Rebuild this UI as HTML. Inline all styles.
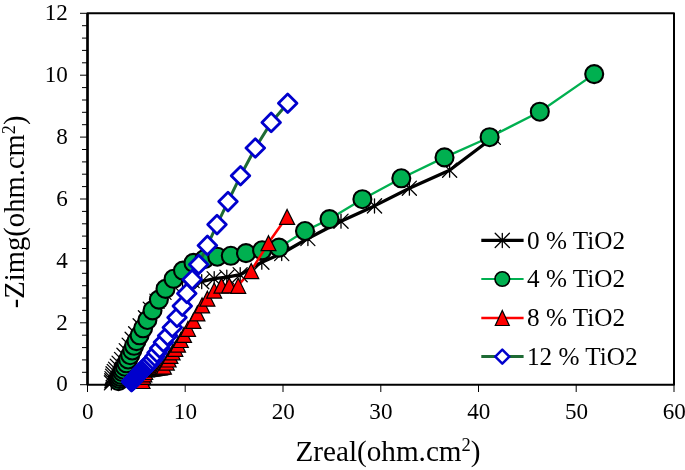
<!DOCTYPE html><html><head><meta charset="utf-8"><title>Nyquist plot</title>
<style>html,body{margin:0;padding:0;background:#fff}svg{display:block;will-change:transform}text{font-family:"Liberation Serif","DejaVu Serif",serif;fill:#000}</style></head><body>
<svg width="685" height="470" viewBox="0 0 685 470">
<rect width="685" height="470" fill="#fff"/>
<rect x="87.5" y="13.3" width="586.5" height="371.4" fill="none" stroke="#000" stroke-width="2" stroke-linejoin="round"/>
<path d="M87.5 13.3V384.7" stroke="#000" stroke-width="2.4" fill="none"/>
<path d="M80 384.7H87.5M82 372.3H87.5M82 359.9H87.5M82 347.6H87.5M82 335.2H87.5M80 322.8H87.5M82 310.4H87.5M82 298H87.5M82 285.7H87.5M82 273.3H87.5M80 260.9H87.5M82 248.5H87.5M82 236.1H87.5M82 223.8H87.5M82 211.4H87.5M80 199H87.5M82 186.6H87.5M82 174.2H87.5M82 161.9H87.5M82 149.5H87.5M80 137.1H87.5M82 124.7H87.5M82 112.3H87.5M82 100H87.5M82 87.6H87.5M80 75.2H87.5M82 62.8H87.5M82 50.4H87.5M82 38.1H87.5M82 25.7H87.5M80 13.3H87.5M87.5 384.7V392M185.2 384.7V392M283 384.7V392M380.8 384.7V392M478.5 384.7V392M576.2 384.7V392M674 384.7V392" stroke="#000" stroke-width="1" fill="none"/>
<text transform="translate(67.9,391.4) scale(0.963,1)" font-size="24" text-anchor="end">0</text>
<text transform="translate(67.9,329.5) scale(0.963,1)" font-size="24" text-anchor="end">2</text>
<text transform="translate(67.9,267.6) scale(0.963,1)" font-size="24" text-anchor="end">4</text>
<text transform="translate(67.9,205.7) scale(0.963,1)" font-size="24" text-anchor="end">6</text>
<text transform="translate(67.9,143.8) scale(0.963,1)" font-size="24" text-anchor="end">8</text>
<text transform="translate(67.9,81.9) scale(0.963,1)" font-size="24" text-anchor="end">10</text>
<text transform="translate(67.9,20) scale(0.963,1)" font-size="24" text-anchor="end">12</text>
<text transform="translate(87.7,418.6) scale(0.963,1)" font-size="24" text-anchor="middle">0</text>
<text transform="translate(185.4,418.6) scale(0.963,1)" font-size="24" text-anchor="middle">10</text>
<text transform="translate(283.2,418.6) scale(0.963,1)" font-size="24" text-anchor="middle">20</text>
<text transform="translate(380.9,418.6) scale(0.963,1)" font-size="24" text-anchor="middle">30</text>
<text transform="translate(478.7,418.6) scale(0.963,1)" font-size="24" text-anchor="middle">40</text>
<text transform="translate(576.5,418.6) scale(0.963,1)" font-size="24" text-anchor="middle">50</text>
<text transform="translate(674.2,418.6) scale(0.963,1)" font-size="24" text-anchor="middle">60</text>
<text x="388" y="460.5" font-size="29.2" text-anchor="middle">Zreal(ohm.cm<tspan font-size="18.5" dy="-9.5">2</tspan><tspan dy="9.5">)</tspan></text>
<text transform="translate(24.2,211.9) rotate(-90) scale(0.981,1)" font-size="29.2" text-anchor="middle">-Zimg(ohm.cm<tspan font-size="18.5" dy="-9.5">2</tspan><tspan dy="9.5">)</tspan></text>
<polyline points="111.4,382.9 111.7,380.9 111.9,378.6 112.5,376.2 113.1,373.8 114.3,371.5 115.5,369.1 117.3,366.1 119.1,363.1 121.5,359.5 123.9,355.4 126.2,350.6 129.2,345.2 132.2,339.3 135.7,333.9 140.2,325.8 145.5,317.8 150.3,309.1 157,301.1 164,292.3 172.8,285 182.5,280.5 192.2,280.5 201.7,281.6 214.2,278.6 226.8,277.2 240.2,274.7 261.8,262.2 281.7,253.5 307.9,238.5 341,221.2 374.5,205.9 409.4,188.2 449.6,170.2 493.3,137.3" fill="none" stroke="#000" stroke-width="3.3" stroke-linejoin="round"/>
<path d="M111.4 375.8V389.9M104.4 375.8L118.5 389.9M118.5 375.8L104.4 389.9M111.7 373.8V387.9M104.7 373.8L118.8 387.9M118.8 373.8L104.7 387.9M111.9 371.6V385.7M104.9 371.6L119 385.7M119 371.6L104.9 385.7M112.5 369.1V383.2M105.5 369.1L119.5 383.2M119.5 369.1L105.5 383.2M113.1 366.8V380.9M106 366.8L120.1 380.9M120.1 366.8L106 380.9M114.3 364.4V378.6M107.2 364.4L121.3 378.6M121.3 364.4L107.2 378.6M115.5 362.1V376.2M108.5 362.1L122.5 376.2M122.5 362.1L108.5 376.2M117.3 359.1V373.2M110.2 359.1L124.3 373.2M124.3 359.1L110.2 373.2M119.1 356.1V370.2M112 356.1L126.1 370.2M126.1 356.1L112 370.2M121.5 352.4V366.6M114.5 352.4L128.6 366.6M128.6 352.4L114.5 366.6M123.9 348.3V362.4M116.9 348.3L131 362.4M131 348.3L116.9 362.4M126.2 343.6V357.7M119.2 343.6L133.2 357.7M133.2 343.6L119.2 357.7M129.2 338.1V352.2M122.1 338.1L136.2 352.2M136.2 338.1L122.1 352.2M132.2 332.2V346.4M125.1 332.2L139.2 346.4M139.2 332.2L125.1 346.4M135.7 326.8V340.9M128.6 326.8L142.8 340.9M142.8 326.8L128.6 340.9M140.2 318.8V332.9M133.1 318.8L147.2 332.9M147.2 318.8L133.1 332.9M145.5 310.8V324.9M138.4 310.8L152.6 324.9M152.6 310.8L138.4 324.9M150.3 302.1V316.2M143.2 302.1L157.4 316.2M157.4 302.1L143.2 316.2M157 294.1V308.2M149.9 294.1L164.1 308.2M164.1 294.1L149.9 308.2M164 285.2V299.4M156.9 285.2L171.1 299.4M171.1 285.2L156.9 299.4M172.8 277.9V292.1M165.8 277.9L179.9 292.1M179.9 277.9L165.8 292.1M182.5 273.4V287.6M175.4 273.4L189.6 287.6M189.6 273.4L175.4 287.6M192.2 273.4V287.6M185.1 273.4L199.2 287.6M199.2 273.4L185.1 287.6M201.7 274.6V288.7M194.6 274.6L208.8 288.7M208.8 274.6L194.6 288.7M214.2 271.6V285.7M207.1 271.6L221.2 285.7M221.2 271.6L207.1 285.7M226.8 270.1V284.2M219.8 270.1L233.9 284.2M233.9 270.1L219.8 284.2M240.2 267.6V281.8M233.1 267.6L247.2 281.8M247.2 267.6L233.1 281.8M261.8 255.1V269.2M254.8 255.1L268.9 269.2M268.9 255.1L254.8 269.2M281.7 246.4V260.6M274.6 246.4L288.8 260.6M288.8 246.4L274.6 260.6M307.9 231.4V245.6M300.8 231.4L314.9 245.6M314.9 231.4L300.8 245.6M341 214.1V228.2M333.9 214.1L348.1 228.2M348.1 214.1L333.9 228.2M374.5 198.8V213M367.4 198.8L381.6 213M381.6 198.8L367.4 213M409.4 181.1V195.2M402.3 181.1L416.4 195.2M416.4 181.1L402.3 195.2M449.6 163.1V177.2M442.6 163.1L456.7 177.2M456.7 163.1L442.6 177.2M493.3 130.2V144.4M486.2 130.2L500.4 144.4M500.4 130.2L486.2 144.4" stroke="#000" stroke-width="1.3" stroke-linecap="round" fill="none"/>
<polyline points="118.5,381.1 119.2,379 120.1,376.9 121.1,374.8 122.3,372.2 123.4,369.7 124.9,366.7 126.5,363.3 128.1,359.5 130.2,355.2 132.3,350.5 134.1,345.8 136.5,341.1 139.6,335.3 143.1,328.3 147.4,320 152.5,310.4 158.9,299.6 165.5,288.9 173.6,278.8 183,270.6 193.5,262.9 204.5,259.1 217.3,256.7 230.8,255.8 246,253.1 262.1,250.3 279,247.6 305,231 329.5,219.1 362.4,199.2 401.3,178.3 444.5,157.4 489.6,137.2 539.8,111.7 594.2,74.1" fill="none" stroke="#00b050" stroke-width="2.3" stroke-linejoin="round"/>
<g fill="#00b050" stroke="#000" stroke-width="2.1"><circle cx="118.5" cy="381.1" r="9"/><circle cx="119.2" cy="379" r="9"/><circle cx="120.1" cy="376.9" r="9"/><circle cx="121.1" cy="374.8" r="9"/><circle cx="122.3" cy="372.2" r="9"/><circle cx="123.4" cy="369.7" r="9"/><circle cx="124.9" cy="366.7" r="9"/><circle cx="126.5" cy="363.3" r="9"/><circle cx="128.1" cy="359.5" r="9"/><circle cx="130.2" cy="355.2" r="9"/><circle cx="132.3" cy="350.5" r="9"/><circle cx="134.1" cy="345.8" r="9"/><circle cx="136.5" cy="341.1" r="9"/><circle cx="139.6" cy="335.3" r="9"/><circle cx="143.1" cy="328.3" r="9"/><circle cx="147.4" cy="320" r="9"/><circle cx="152.5" cy="310.4" r="9"/><circle cx="158.9" cy="299.6" r="9"/><circle cx="165.5" cy="288.9" r="9"/><circle cx="173.6" cy="278.8" r="9"/><circle cx="183" cy="270.6" r="9"/><circle cx="193.5" cy="262.9" r="9"/><circle cx="204.5" cy="259.1" r="9"/><circle cx="217.3" cy="256.7" r="9"/><circle cx="230.8" cy="255.8" r="9"/><circle cx="246" cy="253.1" r="9"/><circle cx="262.1" cy="250.3" r="9"/><circle cx="279" cy="247.6" r="9"/><circle cx="305" cy="231" r="9"/><circle cx="329.5" cy="219.1" r="9"/><circle cx="362.4" cy="199.2" r="9"/><circle cx="401.3" cy="178.3" r="9"/><circle cx="444.5" cy="157.4" r="9"/><circle cx="489.6" cy="137.2" r="9"/><circle cx="539.8" cy="111.7" r="9"/><circle cx="594.2" cy="74.1" r="9"/></g>
<polyline points="142.5,380.6 143.4,376.5 144.3,373.9 145.2,371.6 146.6,368.9 147.9,368.7 149.2,368.5 150.5,368.3 151.8,368.1 153.1,367.9 154.4,367.7 155.7,367.5 157,367.3 158.3,367.1 159.6,366.9 160.9,366.7 162.2,366.5 163.9,366.3 166.8,362.2 168.6,359.1 170.4,355.5 172.6,351.9 175.3,348.4 178,344.3 180.8,339.6 184,334.5 188,328.4 193.4,320.4 197.4,313 202.1,305 207.4,298.3 214.2,290.2 221.5,285.3 229.2,285 238.2,285.4 251.2,270.7 268.5,242.8 287.1,216.5" fill="none" stroke="#f00" stroke-width="2.5" stroke-linejoin="round"/>
<g fill="#f00" stroke="#000" stroke-width="1.2" stroke-linejoin="miter"><path d="M142.5 373.5L150 388.5H135Z"/><path d="M143.4 369.4L150.9 384.4H135.9Z"/><path d="M144.3 366.8L151.8 381.8H136.8Z"/><path d="M145.2 364.5L152.7 379.5H137.7Z"/><path d="M146.6 361.8L154.1 376.8H139.1Z"/><path d="M147.9 361.6L155.4 376.6H140.4Z"/><path d="M149.2 361.4L156.7 376.4H141.7Z"/><path d="M150.5 361.2L158 376.2H143Z"/><path d="M151.8 361L159.3 376H144.3Z"/><path d="M153.1 360.8L160.6 375.8H145.6Z"/><path d="M154.4 360.6L161.9 375.6H146.9Z"/><path d="M155.7 360.4L163.2 375.4H148.2Z"/><path d="M157 360.2L164.5 375.2H149.5Z"/><path d="M158.3 360L165.8 375H150.8Z"/><path d="M159.6 359.8L167.1 374.8H152.1Z"/><path d="M160.9 359.6L168.4 374.6H153.4Z"/><path d="M162.2 359.4L169.7 374.4H154.7Z"/><path d="M163.9 359.2L171.4 374.2H156.4Z"/><path d="M166.8 355.1L174.3 370.1H159.3Z"/><path d="M168.6 352L176.1 367H161.1Z"/><path d="M170.4 348.4L177.9 363.4H162.9Z"/><path d="M172.6 344.8L180.1 359.8H165.1Z"/><path d="M175.3 341.3L182.8 356.3H167.8Z"/><path d="M178 337.2L185.5 352.2H170.5Z"/><path d="M180.8 332.5L188.3 347.5H173.3Z"/><path d="M184 327.4L191.5 342.4H176.5Z"/><path d="M188 321.3L195.5 336.3H180.5Z"/><path d="M193.4 313.3L200.9 328.3H185.9Z"/><path d="M197.4 305.9L204.9 320.9H189.9Z"/><path d="M202.1 297.9L209.6 312.9H194.6Z"/><path d="M207.4 291.2L214.9 306.2H199.9Z"/><path d="M214.2 283.1L221.7 298.1H206.7Z"/><path d="M221.5 278.2L229 293.2H214Z"/><path d="M229.2 277.9L236.7 292.9H221.7Z"/><path d="M238.2 278.3L245.7 293.3H230.7Z"/><path d="M251.2 263.6L258.7 278.6H243.7Z"/><path d="M268.5 235.7L276 250.7H261Z"/><path d="M287.1 209.4L294.6 224.4H279.6Z"/></g>
<polyline points="131.5,381.7 132.4,380.8 133.3,379.8 134.2,378.9 135.1,378 136,377 136.9,376.1 137.8,375.1 138.7,374.2 139.6,373.3 140.5,372.3 141.4,371.4 142.3,370.5 143.2,369.5 144.1,368.6 145,367.7 145.9,366.7 146.8,365.8 147.9,364.6 149.3,363.3 150.9,361.6 152.9,359.5 154.8,356.5 157,352.8 159.7,348.3 163.4,342.2 167.6,335.8 172.3,327.5 177,317.5 182.3,306.1 186.8,293.4 192.2,279.6 198.7,264.5 207.4,245.4 217,224.6 228,201.6 240.5,175.8 255.3,148 271.2,122.4 287.7,103.3" fill="none" stroke="#1e6b34" stroke-width="3" stroke-linejoin="round"/>
<g fill="#fff" stroke="#0000cd" stroke-width="2.8" stroke-linejoin="round"><path d="M131.5 372.4L140.8 381.7L131.5 391L122.2 381.7Z"/><path d="M132.4 371.5L141.7 380.8L132.4 390.1L123.1 380.8Z"/><path d="M133.3 370.5L142.6 379.8L133.3 389.1L124 379.8Z"/><path d="M134.2 369.6L143.5 378.9L134.2 388.2L124.9 378.9Z"/><path d="M135.1 368.7L144.4 378L135.1 387.3L125.8 378Z"/><path d="M136 367.7L145.3 377L136 386.3L126.7 377Z"/><path d="M136.9 366.8L146.2 376.1L136.9 385.4L127.6 376.1Z"/><path d="M137.8 365.8L147.1 375.1L137.8 384.4L128.5 375.1Z"/><path d="M138.7 364.9L148 374.2L138.7 383.5L129.4 374.2Z"/><path d="M139.6 364L148.9 373.3L139.6 382.6L130.3 373.3Z"/><path d="M140.5 363L149.8 372.3L140.5 381.6L131.2 372.3Z"/><path d="M141.4 362.1L150.7 371.4L141.4 380.7L132.1 371.4Z"/><path d="M142.3 361.2L151.6 370.5L142.3 379.8L133 370.5Z"/><path d="M143.2 360.2L152.5 369.5L143.2 378.8L133.9 369.5Z"/><path d="M144.1 359.3L153.4 368.6L144.1 377.9L134.8 368.6Z"/><path d="M145 358.4L154.3 367.7L145 377L135.7 367.7Z"/><path d="M145.9 357.4L155.2 366.7L145.9 376L136.6 366.7Z"/><path d="M146.8 356.5L156.1 365.8L146.8 375.1L137.5 365.8Z"/><path d="M147.9 355.3L157.2 364.6L147.9 373.9L138.6 364.6Z"/><path d="M149.3 354L158.6 363.3L149.3 372.6L140 363.3Z"/><path d="M150.9 352.3L160.2 361.6L150.9 370.9L141.6 361.6Z"/><path d="M152.9 350.2L162.2 359.5L152.9 368.8L143.6 359.5Z"/><path d="M154.8 347.2L164.1 356.5L154.8 365.8L145.5 356.5Z"/><path d="M157 343.5L166.3 352.8L157 362.1L147.7 352.8Z"/><path d="M159.7 339L169 348.3L159.7 357.6L150.4 348.3Z"/><path d="M163.4 332.9L172.7 342.2L163.4 351.5L154.1 342.2Z"/><path d="M167.6 326.5L176.9 335.8L167.6 345.1L158.3 335.8Z"/><path d="M172.3 318.2L181.6 327.5L172.3 336.8L163 327.5Z"/><path d="M177 308.2L186.3 317.5L177 326.8L167.7 317.5Z"/><path d="M182.3 296.8L191.6 306.1L182.3 315.4L173 306.1Z"/><path d="M186.8 284.1L196.1 293.4L186.8 302.7L177.5 293.4Z"/><path d="M192.2 270.3L201.5 279.6L192.2 288.9L182.9 279.6Z"/><path d="M198.7 255.2L208 264.5L198.7 273.8L189.4 264.5Z"/><path d="M207.4 236.1L216.7 245.4L207.4 254.7L198.1 245.4Z"/><path d="M217 215.3L226.3 224.6L217 233.9L207.7 224.6Z"/><path d="M228 192.3L237.3 201.6L228 210.9L218.7 201.6Z"/><path d="M240.5 166.5L249.8 175.8L240.5 185.1L231.2 175.8Z"/><path d="M255.3 138.7L264.6 148L255.3 157.3L246 148Z"/><path d="M271.2 113.1L280.5 122.4L271.2 131.7L261.9 122.4Z"/><path d="M287.7 94L297 103.3L287.7 112.6L278.4 103.3Z"/></g>
<path d="M481.3 240.4H523.6" stroke="#000" stroke-width="3.1"/>
<path d="M502.3 233.3V247.5M495.2 233.3L509.4 247.5M509.4 233.3L495.2 247.5" stroke="#000" stroke-width="1.3" stroke-linecap="round" fill="none"/>
<path d="M481.3 279.0H523.6" stroke="#00b050" stroke-width="2"/>
<circle cx="502.3" cy="279.0" r="7.3" fill="#00b050" stroke="#000" stroke-width="1.6"/>
<path d="M481.3 318.1H523.6" stroke="#f00" stroke-width="2.5"/>
<path d="M502.3 310.5L509.3 325.5H495.3Z" fill="#f00" stroke="#000" stroke-width="1.2"/>
<path d="M481.3 356.6H523.6" stroke="#1e6b34" stroke-width="3"/>
<path d="M502.3 349.6L509.3 356.6L502.3 363.6L495.3 356.6Z" fill="#fff" stroke="#0000cd" stroke-width="2.5" stroke-linejoin="round"/>
<text x="527" y="248.5" font-size="25.2">0 % TiO2</text>
<text x="527" y="287.1" font-size="25.2">4 % TiO2</text>
<text x="527" y="326.2" font-size="25.2">8 % TiO2</text>
<text x="527" y="364.7" font-size="25.2">12 % TiO2</text>
</svg></body></html>
